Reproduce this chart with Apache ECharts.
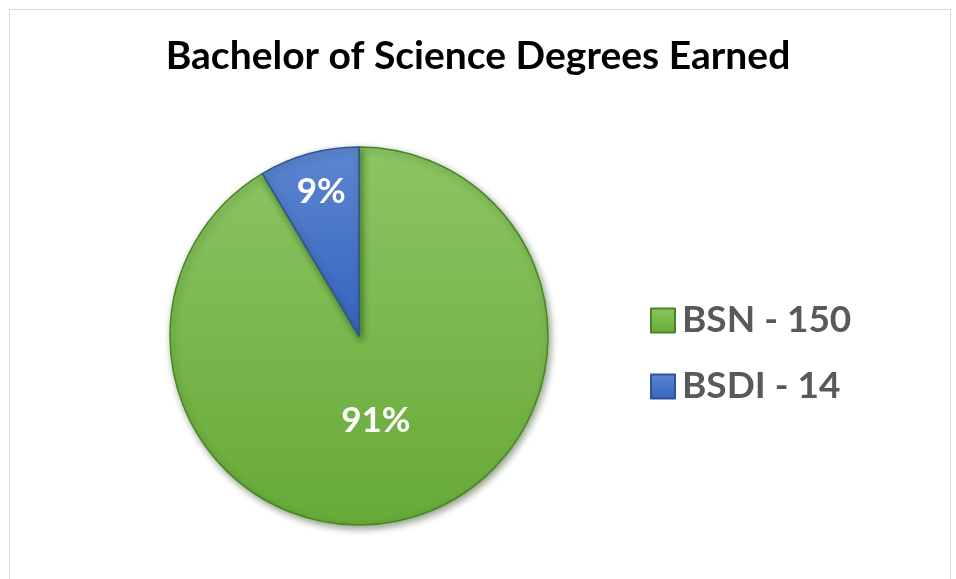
<!DOCTYPE html>
<html>
<head>
<meta charset="utf-8">
<script src="https://cdn.jsdelivr.net/npm/echarts@6/dist/echarts.min.js"></script>
<style>
  html, body { margin: 0; padding: 0; background: #fff; }
  #main { width: 956px; height: 579px; }
</style>
</head>
<body>
<div id="main"></div>
<script>
var degreeNames = ['BSN', 'BSDI'];
var degreeCounts = [150, 14];
var percentLabels = ['91%', '9%'];

var chart = echarts.init(document.getElementById('main'), null, { renderer: 'canvas' });

var green = new echarts.graphic.LinearGradient(0, 0, 0, 1, [
  { offset: 0, color: '#8cc563' },
  { offset: 1, color: '#67aa38' }
]);
var blue = new echarts.graphic.LinearGradient(0, 0, 0, 1, [
  { offset: 0, color: '#5d86d2' },
  { offset: 1, color: '#3564bd' }
]);
var fills = [green, blue];
var borders = ['#4a8424', '#2f5597'];

var pieData = degreeNames.map(function (n, i) {
  var d = {
    name: n,
    value: degreeCounts[i],
    itemStyle: { color: fills[i], borderColor: borders[i] },
    label: { formatter: percentLabels[i] }
  };
  // 9% label sits further out in the reference
  if (i === 1) d.label.offset = [-12, -50];
  else d.label.offset = [-9, -9];
  return d;
});

var option = {
  backgroundColor: '#ffffff',
  title: {
    text: 'Bachelor of Science Degrees Earned',
    left: 'center',
    top: 32,
    textStyle: {
      fontFamily: 'Lato',
      fontWeight: 'bold',
      fontSize: 39,
      color: '#000000'
    }
  },
  legend: {
    orient: 'vertical',
    left: 645,
    top: 297,
    itemWidth: 24,
    itemHeight: 24,
    itemGap: 29,
    icon: 'rect',
    data: degreeNames,
    formatter: function (name) {
      return name + ' - ' + degreeCounts[degreeNames.indexOf(name)];
    },
    textStyle: {
      fontFamily: 'Lato',
      fontWeight: 'bold',
      fontSize: 37,
      color: '#595959',
      padding: [0, 0, 0, 2]
    }
  },
  graphic: [{
    type: 'rect',
    silent: true,
    shape: { x: 9.5, y: 9.5, width: 941, height: 620 },
    style: { fill: 'none', stroke: '#d9d9d9', lineWidth: 1 }
  }],
  series: [{
    type: 'pie',
    center: [359, 336],
    radius: 189,
    startAngle: 90,
    clockwise: true,
    animation: false,
    itemStyle: {
      borderWidth: 1.5,
      shadowColor: 'rgba(20,50,0,0.45)',
      shadowBlur: 7,
      shadowOffsetX: 2,
      shadowOffsetY: 3
    },
    label: {
      show: true,
      position: 'inside',
      color: '#ffffff',
      fontFamily: 'Lato',
      fontWeight: 'bold',
      fontSize: 35
    },
    labelLine: { show: false },
    emphasis: { disabled: true },
    data: pieData
  }]
};

chart.setOption(option);
</script>
</body>
</html>
